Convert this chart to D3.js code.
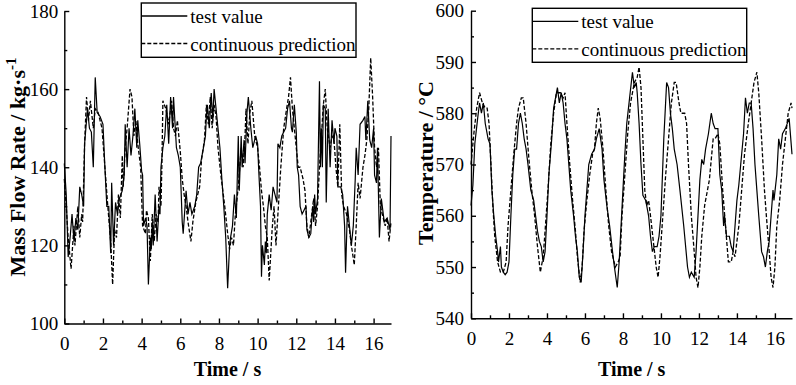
<!DOCTYPE html>
<html>
<head>
<meta charset="utf-8">
<script src="https://cdn.jsdelivr.net/npm/d3@7"></script>
<style>
  body { margin: 0; background: #fff; }
  svg { display: block; }
  text { font-family: "Liberation Serif", "Times New Roman", serif; fill: #000; }
</style>
</head>
<body>
<svg id="chart" width="796" height="385"></svg>
<script>
// ---- data ----
var xMajorTicks = [0, 2, 4, 6, 8, 10, 12, 14, 16];
var xMinorTicks = [1, 3, 5, 7, 9, 11, 13, 15];
var massTicks = [100, 120, 140, 160, 180];
var massMinorTicks = [110, 130, 150, 170];
var tempTicks = [540, 550, 560, 570, 580, 590, 600];
var tempMinorTicks = [545, 555, 565, 575, 585, 595];
var legendLabels = ["test value", "continuous prediction"];

// mass flow rate, test value
var massTestT = [0,0.1,0.2,0.3,0.4,0.5,0.6,0.7,0.8,0.9,1.0,1.05,1.15,1.2,1.3,1.4,1.5,1.6,1.7,1.85,2.0,2.1,2.2,2.3,2.4,2.45,2.55,2.65,2.75,2.85,3.0,3.1,3.15,3.25,3.35,3.45,3.55,3.65,3.75,3.8,3.9,4.0,4.05,4.1,4.2,4.28,4.35,4.45,4.5,4.55,4.6,4.7,4.8,4.9,4.95,5.0,5.1,5.2,5.3,5.4,5.5,5.6,5.65,5.8,5.9,6.0,6.1,6.15,6.3,6.4,6.5,6.6,6.75,6.85,6.95,7.05,7.2,7.3,7.35,7.4,7.5,7.6,7.68,7.75,7.85,7.95,8.05,8.15,8.25,8.35,8.45,8.55,8.6,8.7,8.8,8.9,9.0,9.05,9.15,9.2,9.3,9.35,9.45,9.52,9.65,9.75,9.9,10.0,10.05,10.1,10.15,10.2,10.25,10.35,10.4,10.45,10.5,10.6,10.7,10.8,10.9,11.0,11.05,11.15,11.25,11.35,11.45,11.55,11.65,11.75,11.8,11.9,12.0,12.05,12.12,12.2,12.3,12.4,12.5,12.55,12.65,12.75,12.85,12.9,12.95,13.0,13.1,13.2,13.25,13.3,13.35,13.4,13.5,13.55,13.65,13.75,13.85,13.95,14.0,14.1,14.15,14.3,14.4,14.5,14.55,14.65,14.75,14.85,14.95,15.05,15.1,15.2,15.3,15.45,15.55,15.6,15.7,15.8,15.9,16.0,16.05,16.15,16.2,16.3,16.4,16.55,16.7,16.8,16.85,16.9];
var massTest = [141,133,117,122,128,121,127,124,135,133,130,146,152,155,150,149,140,163,154,153,151,140,130,130,118,136,120,131,128,132,134,138,151,140,150,143,148,155,145,152,146,139,138,125,127,125,110,122,119,126,120,133,121,130,128,140,145,148,156,146,158,150,158,145,143,140,126,123,134,128,131,128,130,133,140,141,145,148,153,156,150,159,152,160,155,150,145,137,130,122,109,120,122,125,133,127,148,134,148,140,147,141,154,158,150,145,148,146,140,135,130,112,120,115,121,118,128,133,129,135,133,131,146,145,148,149,150,155,157,150,149,156,149,140,138,130,128,129,130,124,122,123,130,126,133,128,132,162,140,150,140,156,155,131,155,140,152,146,150,148,135,135,133,125,113,130,125,120,125,137,145,138,151,152,153,147,157,147,145,150,138,136,145,122,132,126,127,125,124,148];

// mass flow rate, continuous prediction
var massPredT = [0,0.1,0.2,0.35,0.5,0.55,0.7,0.8,0.9,0.95,1.05,1.15,1.25,1.35,1.5,1.6,1.75,1.95,2.1,2.25,2.4,2.5,2.6,2.7,2.8,2.9,3.0,3.05,3.15,3.25,3.4,3.5,3.6,3.7,3.8,3.95,4.05,4.2,4.25,4.35,4.45,4.55,4.65,4.75,4.85,4.9,5.0,5.05,5.1,5.25,5.4,5.55,5.65,5.75,5.85,6.0,6.1,6.2,6.3,6.4,6.55,6.65,6.8,6.9,7.0,7.1,7.25,7.35,7.45,7.55,7.65,7.75,7.85,7.95,8.1,8.3,8.45,8.55,8.65,8.75,8.85,9.0,9.15,9.25,9.35,9.4,9.5,9.6,9.7,9.85,10.0,10.1,10.2,10.3,10.4,10.5,10.6,10.75,10.85,10.95,11.05,11.2,11.35,11.5,11.6,11.7,11.8,11.9,12.0,12.1,12.2,12.35,12.45,12.55,12.65,12.8,12.9,13.0,13.1,13.2,13.3,13.4,13.5,13.6,13.75,13.85,13.95,14.05,14.15,14.25,14.35,14.45,14.6,14.75,14.85,15.0,15.1,15.2,15.3,15.45,15.55,15.65,15.75,15.85,15.95,16.05,16.15,16.25,16.35,16.45,16.6,16.7,16.8,16.9];
var massPred = [137,130,122,114,125,120,130,122,128,126,146,158,152,157,150,155,154,150,140,130,121,110,124,122,133,127,143,135,145,150,160,158,148,152,146,140,125,123,129,127,116,128,121,128,126,135,130,141,157,155,151,157,150,148,152,144,137,133,130,126,121,126,131,133,135,142,147,156,151,158,150,156,153,145,138,130,123,119,122,120,128,135,145,140,148,155,146,154,157,148,145,140,134,130,125,122,111,124,130,120,128,140,150,155,158,163,155,150,145,140,140,137,134,125,122,128,132,125,130,140,148,156,160,150,145,148,147,140,135,151,133,130,128,124,120,115,125,136,132,140,143,147,155,168,158,145,140,145,130,128,125,127,121,126];

// temperature, test value
var tempTestT = [0,0.1,0.2,0.35,0.45,0.55,0.65,0.75,0.9,1.0,1.1,1.2,1.3,1.4,1.45,1.55,1.6,1.7,1.8,1.9,2.0,2.1,2.2,2.3,2.4,2.5,2.6,2.7,2.8,2.9,3.0,3.15,3.3,3.4,3.5,3.6,3.7,3.8,3.9,4.0,4.1,4.25,4.35,4.45,4.55,4.65,4.75,4.85,4.95,5.05,5.15,5.25,5.4,5.5,5.6,5.7,5.8,5.9,6.0,6.1,6.2,6.35,6.5,6.6,6.75,6.9,7.0,7.15,7.3,7.45,7.55,7.7,7.8,7.9,8.0,8.1,8.2,8.35,8.5,8.6,8.7,8.75,8.85,8.95,9.05,9.2,9.35,9.45,9.55,9.65,9.8,9.9,10.0,10.15,10.3,10.4,10.5,10.6,10.7,10.85,11.0,11.2,11.4,11.5,11.6,11.75,11.85,11.95,12.05,12.15,12.25,12.35,12.5,12.65,12.75,12.85,13.0,13.1,13.2,13.3,13.35,13.45,13.6,13.7,13.8,13.9,14.0,14.1,14.2,14.35,14.45,14.55,14.65,14.75,14.85,14.95,15.05,15.15,15.3,15.4,15.5,15.6,15.7,15.8,15.9,15.95,16.1,16.2,16.3,16.4,16.55,16.75,16.9];
var tempTest = [562,566,574,579,582,580,582,578,575,574,565,560,556,553,551,554,550,549,548.5,549,551,560,568,573,573,578,580,578,575,573,570,565,563,560,557,555,554,551,553,560,568,575,581,583,585,582,584,582,578,575,570,565,560,556,553,548,547,553,560,565,570,572,573,575,577,573,567,562,558,553,550,546,551,558,565,572,578,583,588,585,586,584,578,570,564,563,560,556,553,554,554,556,560,575,586,585,580,577,573,570,565,558,550,548,549,548,553,560,567,571,570,573,576,580,578,577,577,568,565,558,560,556,556,554,553,558,563,566,570,576,583,580,582,582,577,570,565,560,553,552,550,553,555,560,565,563,568,575,573,576,577,579,572];

// temperature, continuous prediction
var tempPredT = [0,0.15,0.3,0.45,0.6,0.75,0.85,0.95,1.05,1.15,1.25,1.4,1.55,1.7,1.85,1.95,2.1,2.25,2.4,2.5,2.65,2.75,2.9,3.05,3.2,3.35,3.5,3.65,3.8,3.9,4.05,4.2,4.35,4.5,4.7,4.85,4.95,5.05,5.2,5.35,5.5,5.6,5.75,5.85,5.95,6.1,6.25,6.4,6.5,6.6,6.7,6.8,6.95,7.1,7.25,7.4,7.6,7.75,7.85,7.95,8.1,8.25,8.4,8.6,8.75,8.85,8.95,9.05,9.15,9.25,9.35,9.45,9.6,9.75,9.85,9.95,10.1,10.25,10.4,10.55,10.7,10.8,10.95,11.05,11.25,11.35,11.45,11.6,11.75,11.85,11.95,12.05,12.15,12.3,12.45,12.55,12.75,12.85,13.0,13.1,13.25,13.4,13.55,13.7,13.8,13.9,14.1,14.25,14.4,14.6,14.75,14.9,15.05,15.15,15.3,15.45,15.55,15.7,15.8,15.9,16.0,16.1,16.25,16.4,16.55,16.7,16.85,16.9];
var tempPred = [570,576,581,584,582,581,581,578,570,562,556,551,549,549,551,558,565,572,578,581,583,583,578,571,565,560,554,549,552,557,565,574,580,584,584,583,584,578,570,563,557,552,547,550,557,563,568,572,573,578,581,579,573,565,558,553,550,551,552,560,568,576,582,586,587,589,585,575,565,562,563,560,555,550,548,552,560,568,575,582,586,586,582,580,580,578,570,560,553,548,546,550,556,562,565,567,575,575,576,574,565,558,551,551,553,552,558,565,572,578,582,586,588,584,575,565,560,553,548,546,550,558,563,570,575,580,582,581];

var svg = d3.select("#chart");

var panels = [
  { left: 64.3, right: 391, top: 11, bottom: 323.5, yDomain: [100, 180], yTicks: massTicks, yMinor: massMinorTicks,
    test: d3.zip(massTestT, massTest), pred: d3.zip(massPredT, massPred),
    legend: { x: 141.3, y: 3, w: 214.7, h: 54.3 }, yTitleX: 25, yTitleY: 167, xTitleX: 227.5 },
  { left: 471, right: 792, top: 10.7, bottom: 318.3, yDomain: [540, 600], yTicks: tempTicks, yMinor: tempMinorTicks,
    test: d3.zip(tempTestT, tempTest), pred: d3.zip(tempPredT, tempPred),
    legend: { x: 532.3, y: 8.3, w: 214.4, h: 54 }, yTitleX: 433, yTitleY: 163, xTitleX: 631.7 }
];

function styleAxis(sel) {
  sel.attr("font-family", null).attr("font-size", 19);
  sel.selectAll("path, line").attr("stroke", "#000").attr("stroke-width", 1.4);
}

panels.forEach(function (p, i) {
  var x = d3.scaleLinear().domain([0, 16.9]).range([p.left, p.right]);
  var y = d3.scaleLinear().domain(p.yDomain).range([p.bottom, p.top]);
  var g = svg.append("g");

  // minor ticks
  g.append("g").attr("transform", "translate(0," + p.bottom + ")")
    .call(d3.axisBottom(x).tickValues(xMinorTicks).tickSize(-3).tickFormat(""))
    .call(styleAxis).select(".domain").remove();
  g.append("g").attr("transform", "translate(" + p.left + ",0)")
    .call(d3.axisLeft(y).tickValues(p.yMinor).tickSize(-3).tickFormat(""))
    .call(styleAxis).select(".domain").remove();

  // main axes, ticks pointing inward
  g.append("g").attr("transform", "translate(0," + p.bottom + ")")
    .call(d3.axisBottom(x).tickValues(xMajorTicks).tickSize(-5).tickSizeOuter(0).tickPadding(13))
    .call(styleAxis);
  g.append("g").attr("transform", "translate(" + p.left + ",0)")
    .call(d3.axisLeft(y).tickValues(p.yTicks).tickSize(-5).tickSizeOuter(0).tickPadding(i === 0 ? 6 : 7))
    .call(styleAxis);

  var line = d3.line().x(function (d) { return x(d[0]); }).y(function (d) { return y(d[1]); });

  g.append("path").datum(p.pred).attr("d", line)
    .attr("fill", "none").attr("stroke", "#000").attr("stroke-width", 1.3).attr("stroke-dasharray", "4,2");
  g.append("path").datum(p.test).attr("d", line)
    .attr("fill", "none").attr("stroke", "#000").attr("stroke-width", 1.2);

  // legend
  var L = p.legend;
  var lg = g.append("g");
  lg.append("rect").attr("x", L.x).attr("y", L.y).attr("width", L.w).attr("height", L.h)
    .attr("fill", "#fff").attr("stroke", "#000").attr("stroke-width", 1.4);
  legendLabels.forEach(function (lab, k) {
    var ly = L.y + 13 + k * 27.5;
    lg.append("line").attr("x1", L.x).attr("x2", L.x + 46).attr("y1", ly).attr("y2", ly)
      .attr("stroke", "#000").attr("stroke-width", 1.3).attr("stroke-dasharray", k === 1 ? "4,2" : null);
    lg.append("text").attr("x", L.x + 49).attr("y", ly + 7).attr("font-size", 19).text(lab);
  });

  // axis titles
  g.append("text").attr("x", p.xTitleX).attr("y", 376).attr("text-anchor", "middle")
    .attr("font-size", 20).attr("font-weight", "bold").text("Time / s");

  var yt = g.append("text").attr("transform", "translate(" + p.yTitleX + "," + p.yTitleY + ") rotate(-90)")
    .attr("text-anchor", "middle").attr("font-size", 22).attr("font-weight", "bold");
  if (i === 0) {
    yt.append("tspan").text("Mass Flow Rate / kg\u00b7s");
    yt.append("tspan").attr("dy", -9).attr("font-size", 15).text("-1");
  } else {
    yt.text("Temperature / \u00b0C");
  }
});
</script>
</body>
</html>
